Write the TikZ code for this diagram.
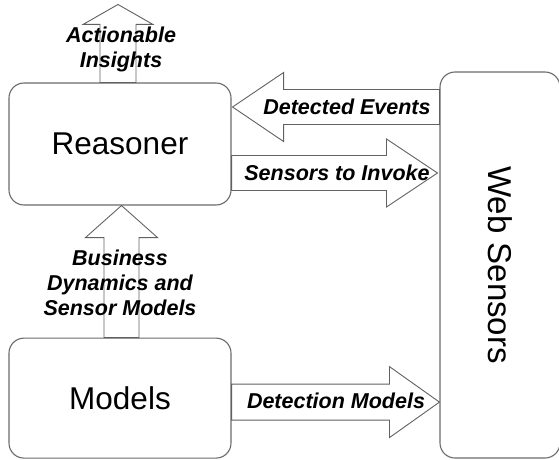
\documentclass[tikz,border=0pt]{standalone}
\usepackage{fontspec}
\setmainfont{Liberation Sans}
\usetikzlibrary{calc,positioning}

% block arrow: tail, tip, shaft half width, head half width, head length
\newcommand{\blockarrow}[5]{%
	\coordinate (ba-h) at ($(#2)!#5!(#1)$);
	\draw[barrow] ($(#1)!#3!90:(#2)$) -- ($(ba-h)!#3!90:(#2)$) -- ($(ba-h)!#4!90:(#2)$)
		-- (#2) -- ($(ba-h)!#4!-90:(#2)$) -- ($(ba-h)!#3!-90:(#2)$) -- ($(#1)!#3!-90:(#2)$) -- cycle;
}

\begin{document}
\begin{tikzpicture}[
	x = 1pt, y = -1pt, % picture units
	B/.style={draw=black!58, line width=1.1pt, rounded corners=15pt, fill=white, inner sep=0pt, font=\fontsize{31.5}{36}\selectfont},
	barrow/.style={draw=black!62, line width=0.9pt, fill=white, line join=miter},
	L/.style={align=center, inner sep=0pt, font=\fontsize{21.5}{25}\selectfont\bfseries\itshape},
	]
	\useasboundingbox (0,0) rectangle (559,460);

	% Nodes and their relative positions
	\node[B, minimum width=222pt, minimum height=122pt] (Reasoner) at (120,144) {Reasoner};
	\node[B, minimum width=222pt, minimum height=120pt, below = 132pt of Reasoner] (Models) {Models};
	\node[B, minimum width=120pt, minimum height=386pt] (Sensors) at (500,265) {};
	\node[rotate=-90, font=\fontsize{33}{38}\selectfont] (SensorsTxt) at (Sensors.center) {Web Sensors};

	% arrow ends
	\coordinate (ai-tail) at ($(Reasoner.north)+(-2,0)$);
	\coordinate (ai-tip)  at ($(Reasoner.north)+(-2,-78)$);
	\coordinate (bd-tail) at ($(Models.north)+(1.5,0)$);
	\coordinate (bd-tip)  at ($(Reasoner.south)+(1.5,0)$);
	\coordinate (de-tip)  at ($(Reasoner.east)+(1,-37)$);
	\coordinate (de-tail) at (de-tip -| Sensors.west);
	\coordinate (si-tail) at ($(Reasoner.east)+(0,29)$);
	\coordinate (si-tip)  at ($(si-tail -| Sensors.west)+(-2,0)$);
	\coordinate (dm-tail) at ($(Models.east)+(0,4)$);
	\coordinate (dm-tip)  at (dm-tail -| Sensors.west);

	% Block arrows
	\blockarrow{ai-tail}{ai-tip}{18pt}{35pt}{20pt}
	\blockarrow{bd-tail}{bd-tip}{17.5pt}{36pt}{32pt}
	\blockarrow{de-tail}{de-tip}{17.5pt}{34.5pt}{51pt}
	\blockarrow{si-tail}{si-tip}{17.5pt}{34pt}{51pt}
	\blockarrow{dm-tail}{dm-tip}{18pt}{35.5pt}{50pt}

	% Labels
	\node[L] (lInsights) at (121,49) {Actionable\\Insights};
	\node[L] (lBusiness) at (120,283) {Business\\Dynamics and\\Sensor Models};
	\node[L] (lEvents)   at (347,107) {Detected Events};
	\node[L] (lInvoke)   at (337,173) {Sensors to Invoke};
	\node[L] (lDetect)   at (336,401) {Detection Models};

\end{tikzpicture}
\end{document}
